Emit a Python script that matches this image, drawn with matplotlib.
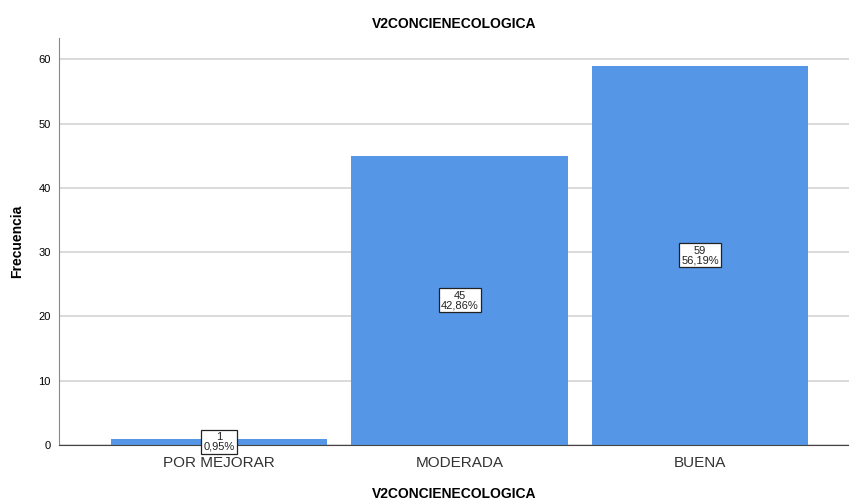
import matplotlib
matplotlib.use("Agg")
import matplotlib.pyplot as plt

categories = ["POR MEJORAR", "MODERADA", "BUENA"]
counts = [1, 45, 59]
percents = ["0,95%", "42,86%", "56,19%"]
yticks = [0, 10, 20, 30, 40, 50, 60]

plt.rcParams['font.family'] = ['Liberation Sans', 'DejaVu Sans']

fig = plt.figure(figsize=(8.49, 5.0), dpi=100)
ax = fig.add_axes([0.0695, 0.11, 0.9305, 0.814])

x = list(range(len(categories)))
ax.bar(x, counts, width=0.9, color="#5596E6", zorder=2)
for xi, c, p in zip(x, counts, percents):
    ax.text(xi, c / 2, f"{c}\n{p}", ha="center", va="center", fontsize=8,
            linespacing=0.95, zorder=3, color="#222222",
            bbox=dict(boxstyle="square,pad=0.2", fc="white", ec="#222222", lw=0.9))

ax.set_xlim(-0.667, 2.62)
ax.set_ylim(0, 63.3)
ax.set_yticks(yticks)
ax.set_xticks(x)
ax.set_xticklabels(categories, fontsize=11, color="#333333")
ax.tick_params(axis="y", length=0, labelsize=8, pad=6)
ax.tick_params(axis="x", length=0, pad=8)
ax.yaxis.grid(True, color="#d4d4d4", lw=1.2, zorder=0)
ax.set_axisbelow(True)
for s in ["top", "right"]:
    ax.spines[s].set_visible(False)
ax.spines["left"].set_color("#888888")
ax.spines["bottom"].set_color("#444444")

ax.set_title("V2CONCIENECOLOGICA", fontsize=10, fontweight="bold", pad=7)
ax.set_ylabel("Frecuencia", fontsize=10, fontweight="bold", labelpad=10)
ax.set_xlabel("V2CONCIENECOLOGICA", fontsize=10, fontweight="bold", labelpad=12)

fig.savefig("out.png", dpi=100)
